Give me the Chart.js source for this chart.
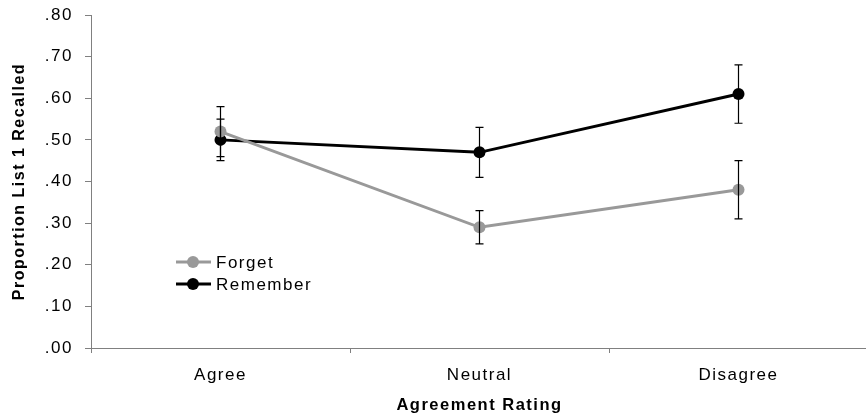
<!DOCTYPE html>
<html><head><meta charset="utf-8">
<script src="https://cdn.jsdelivr.net/npm/chart.js@4.4.1/dist/chart.umd.min.js"></script>
<style>html,body{margin:0;padding:0;overflow:hidden;background:#fff;width:866px;height:419px}#wrap{width:874px;height:419px;position:relative}</style>
</head><body><div id="wrap"><canvas id="c" width="874" height="419"></canvas></div>
<script>
const categories = ["Agree", "Neutral", "Disagree"];
const forgetValues = [0.52, 0.29, 0.38];
const forgetErrors = [0.06, 0.04, 0.07];
const rememberValues = [0.50, 0.47, 0.61];
const rememberErrors = [0.05, 0.06, 0.07];
const yTicks = [0, 0.1, 0.2, 0.3, 0.4, 0.5, 0.6, 0.7, 0.8];

const FONT = "'Liberation Sans', Arial, sans-serif";
const LS = '1.5px';

const spacing = {
  id: 'spacing',
  beforeLayout(chart) { chart.ctx.letterSpacing = LS; },
  beforeDraw(chart) { chart.ctx.letterSpacing = LS; }
};

const errorBars = {
  id: 'errorBars',
  afterDatasetsDraw(chart) {
    const ctx = chart.ctx, x = chart.scales.x, y = chart.scales.y;
    ctx.save();
    ctx.strokeStyle = '#000';
    ctx.lineWidth = 1.2;
    chart.data.datasets.forEach(ds => {
      ds.data.forEach((v, i) => {
        const e = ds.errors[i];
        const px = x.getPixelForValue(i);
        const t = y.getPixelForValue(v + e), b = y.getPixelForValue(v - e);
        ctx.beginPath();
        ctx.moveTo(px, t); ctx.lineTo(px, b);
        ctx.moveTo(px - 4, t); ctx.lineTo(px + 4, t);
        ctx.moveTo(px - 4, b); ctx.lineTo(px + 4, b);
        ctx.stroke();
      });
    });
    ctx.restore();
  }
};

const innerLegend = {
  id: 'innerLegend',
  afterDraw(chart) {
    const ctx = chart.ctx;
    ctx.save();
    ctx.letterSpacing = LS;
    chart.data.datasets.forEach((ds, k) => {
      const yy = 262 + k * 22;
      ctx.strokeStyle = ds.borderColor; ctx.lineWidth = 3;
      ctx.beginPath(); ctx.moveTo(176, yy); ctx.lineTo(211, yy); ctx.stroke();
      ctx.fillStyle = ds.backgroundColor;
      ctx.beginPath(); ctx.arc(193, yy, 6, 0, Math.PI * 2); ctx.fill();
      ctx.fillStyle = '#000';
      ctx.font = '17px ' + FONT;
      ctx.textBaseline = 'middle';
      ctx.fillText(ds.label, 216, yy + 1);
    });
    ctx.restore();
  }
};

new Chart(document.getElementById('c'), {
  type: 'line',
  data: {
    labels: categories,
    datasets: [
      { label: 'Forget', data: forgetValues, errors: forgetErrors, borderColor: '#999999', backgroundColor: '#999999',
        borderWidth: 3, pointRadius: 6, pointHoverRadius: 6, pointBorderWidth: 0, tension: 0 },
      { label: 'Remember', data: rememberValues, errors: rememberErrors, borderColor: '#000000', backgroundColor: '#000000',
        borderWidth: 3, pointRadius: 6, pointHoverRadius: 6, pointBorderWidth: 0, tension: 0 }
    ]
  },
  options: {
    responsive: false,
    animation: false,
    events: [],
    layout: { padding: { top: 15, right: 0, left: 0, bottom: 0 } },
    plugins: { legend: { display: false }, tooltip: { enabled: false } },
    scales: {
      x: {
        type: 'category',
        offset: true,
        grid: { offset: true, drawOnChartArea: false, drawTicks: true, tickLength: 5, color: '#808080' },
        border: { display: true, color: '#808080', width: 1 },
        ticks: { color: '#000', font: { family: FONT, size: 17 }, padding: 12 },
        title: { display: true, text: 'Agreement Rating', color: '#000', font: { family: FONT, size: 16.5, weight: 'bold' }, padding: { top: 5 } },
        afterFit(s) { s.height = 71; s.paddingLeft = 0; s.paddingRight = 0; }
      },
      y: {
        min: 0, max: 0.8,
        afterBuildTicks(s) { s.ticks = yTicks.map(v => ({ value: v })); },
        grid: { drawOnChartArea: false, drawTicks: true, tickLength: 6, color: '#808080' },
        border: { display: true, color: '#808080', width: 1 },
        ticks: { color: '#000', font: { family: FONT, size: 17 }, padding: 12,
          callback: v => v.toFixed(2).replace(/^0/, '') },
        title: { display: true, text: 'Proportion List 1 Recalled', color: '#000', font: { family: FONT, size: 16, weight: 'bold' }, padding: { top: 10, bottom: 0 } },
        afterFit(s) { s.width = 91; s.paddingTop = 0; s.paddingBottom = 0; }
      }
    }
  },
  plugins: [spacing, errorBars, innerLegend]
});
</script></body></html>
